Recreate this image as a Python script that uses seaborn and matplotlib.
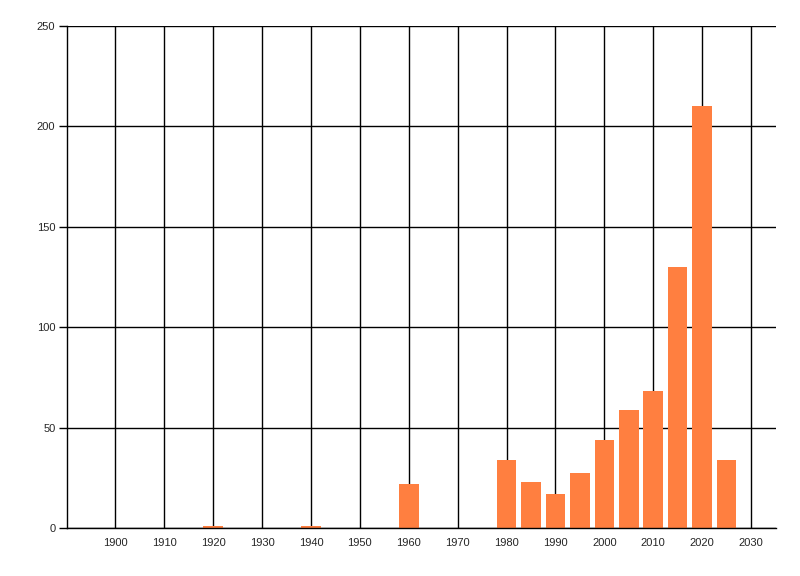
import matplotlib
matplotlib.use('Agg')
import matplotlib.pyplot as plt
import seaborn as sns
import pandas as pd

# counts per 5-year bin
years = [1920, 1940, 1960, 1980, 1985, 1990, 1995, 2000, 2005, 2010, 2015, 2020, 2025]
counts = [1, 1, 22, 34, 23, 17, 27.5, 44, 59, 68, 130, 210, 34]
xticks = list(range(1900, 2031, 10))
yticks = [0, 50, 100, 150, 200, 250]

df = pd.DataFrame({'year': years, 'count': counts})

sns.set_style('white')
plt.rcParams['font.family'] = ['Liberation Sans', 'DejaVu Sans']

fig = plt.figure(figsize=(8, 5.76), dpi=100)
ax = fig.add_axes([66.5 / 800, 48 / 576, 709 / 800, 502 / 576])

sns.barplot(data=df, x='year', y='count', native_scale=True, width=0.8,
            color='#FF7F40', saturation=1, edgecolor='none', linewidth=0, ax=ax)

ax.set_xlim(1890, 2035)
ax.set_ylim(0, 250)
ax.set_xticks(xticks)
ax.set_xticklabels([str(t) for t in xticks])
ax.set_yticks(yticks)
ax.set_axisbelow(True)
ax.grid(True, color='black', linewidth=1)
ax.set_xlabel('')
ax.set_ylabel('')

for s in ['top', 'right']:
    ax.spines[s].set_visible(False)
for s in ['left', 'bottom']:
    ax.spines[s].set_color('black')
    ax.spines[s].set_linewidth(1)

ax.tick_params(axis='y', length=6, width=1, color='black', pad=2, labelsize=8, left=True)
ax.tick_params(axis='x', length=0, pad=7, labelsize=8)

fig.savefig('out.png', dpi=100)
